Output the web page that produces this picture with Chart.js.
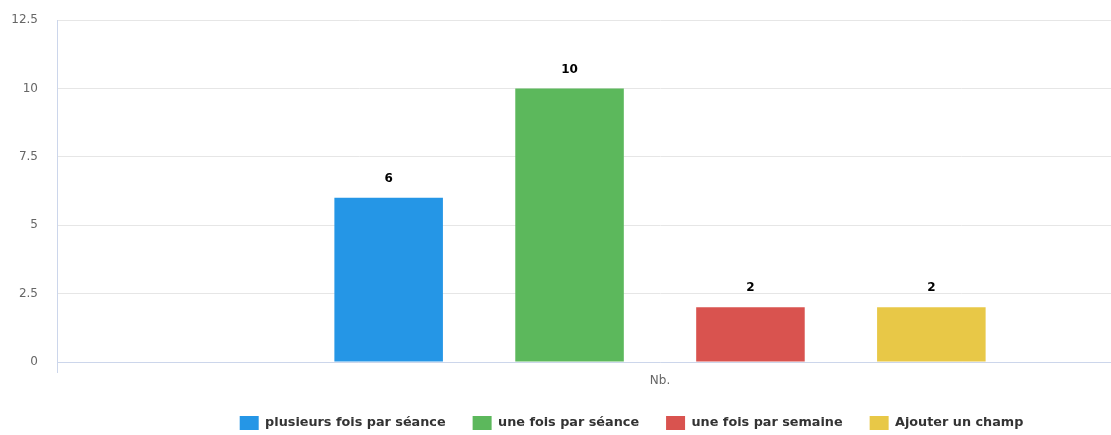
<!DOCTYPE html>
<html lang="fr">
<head>
<meta charset="utf-8">
<title>Nb.</title>
<script src="https://cdn.jsdelivr.net/npm/chart.js@4.4.1/dist/chart.umd.min.js"></script>
<style>
  html, body { margin: 0; padding: 0; background: #fff; }
  .chart-frame { width: 1111px; height: 435px; overflow: hidden; position: relative; }
  .chart-stage { width: 1263px; height: 435px; position: absolute; left: 0; top: 0; }
</style>
</head>
<body>
<div class="chart-frame">
  <div class="chart-stage">
    <canvas id="nb-chart" aria-label="Nb."></canvas>
  </div>
</div>
<script>
const categories = ["Nb."];
const seriesNames = [
  "plusieurs fois par séance",
  "une fois par séance",
  "une fois par semaine",
  "Ajouter un champ",
];
const seriesValues = [6, 10, 2, 2];
const yTickStep = 2.5;
const yMaximum = 12.5;

const SERIES_COLORS = ["#2596e6", "#5cb85c", "#d9534f", "#e8c847"];
const FONT_FAMILY = "'DejaVu Sans', Verdana, sans-serif";

// value labels above each bar, like the original export
const barValueLabels = {
  id: "barValueLabels",
  afterDatasetsDraw(chart) {
    const ctx = chart.ctx;
    ctx.save();
    ctx.font = `bold 12px ${FONT_FAMILY}`;
    ctx.fillStyle = "#000";
    ctx.textAlign = "center";
    ctx.textBaseline = "middle";
    chart.data.datasets.forEach((dataset, datasetIndex) => {
      const meta = chart.getDatasetMeta(datasetIndex);
      if (meta.hidden) return;
      meta.data.forEach((bar, index) => {
        const value = dataset.data[index];
        if (value == null) return;
        ctx.fillText(String(value), bar.x, bar.y - 19);
      });
    });
    ctx.restore();
  },
};

const datasets = seriesNames.map((name, index) => ({
  label: name,
  data: [seriesValues[index]],
  backgroundColor: SERIES_COLORS[index],
  borderWidth: 0,
  categoryPercentage: 0.6,
  barPercentage: 0.6,
}));

new Chart(document.getElementById("nb-chart").getContext("2d"), {
  type: "bar",
  data: { labels: categories, datasets },
  options: {
    responsive: true,
    maintainAspectRatio: false,
    animation: false,
    layout: { padding: { top: 20, right: 0, bottom: -5, left: 0 } },
    plugins: {
      legend: {
        position: "bottom",
        labels: {
          boxWidth: 19,
          boxHeight: 14,
          padding: 27,
          color: "#333",
          font: { family: FONT_FAMILY, size: 12.8, weight: "bold" },
        },
      },
      tooltip: { enabled: false },
    },
    scales: {
      x: {
        offset: true,
        grid: {
          drawOnChartArea: false,
          drawTicks: true,
          tickLength: 11,
          color: "#ccd6eb",
        },
        border: { color: "#ccd6eb" },
        ticks: {
          color: "#666",
          padding: 2,
          font: { family: FONT_FAMILY, size: 12, lineHeight: 1.0 },
        },
      },
      y: {
        min: 0,
        max: yMaximum,
        afterFit(scale) {
          // fixed gutter; the tick padding should not push the plot area down
          scale.width = 57;
          scale.paddingTop = 0;
          scale.paddingBottom = 0;
        },
        grid: { color: "#e6e6e6", drawTicks: false },
        border: { color: "#ccd6eb" },
        ticks: {
          stepSize: yTickStep,
          padding: 19,
          color: "#666",
          font: { family: FONT_FAMILY, size: 12 },
        },
      },
    },
  },
  plugins: [barValueLabels],
});
</script>
</body>
</html>
